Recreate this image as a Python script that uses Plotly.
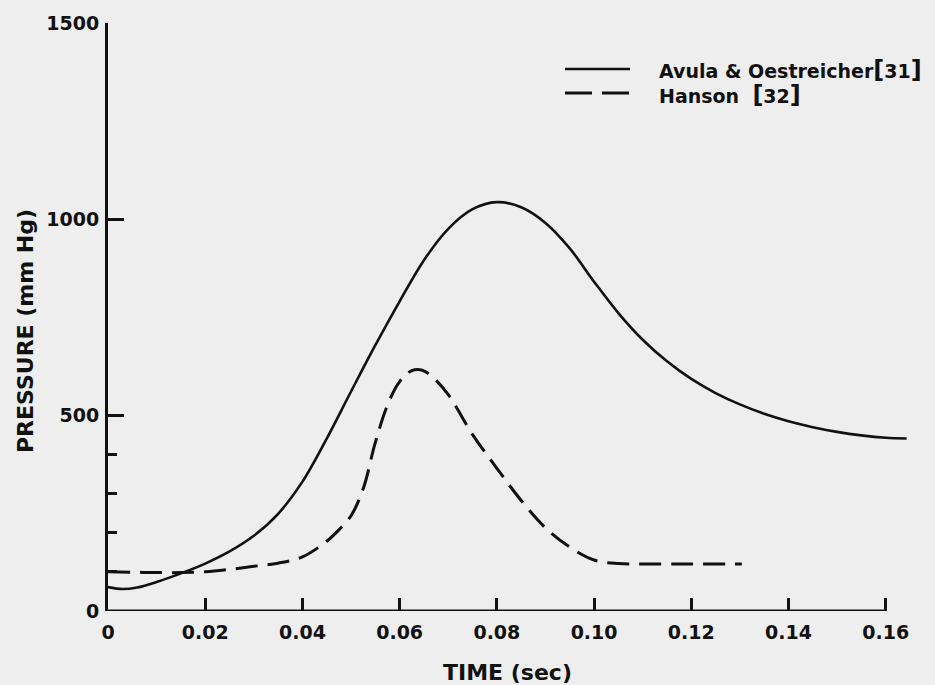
import plotly.graph_objects as go

# Data
t_avula = [0, 0.003, 0.006, 0.01, 0.015, 0.02, 0.025, 0.03, 0.035, 0.04, 0.045,
           0.05, 0.055, 0.06, 0.065, 0.07, 0.075, 0.08, 0.085, 0.09, 0.095,
           0.10, 0.105, 0.11, 0.115, 0.12, 0.125, 0.13, 0.135, 0.14, 0.145,
           0.15, 0.155, 0.16, 0.1643]
p_avula = [61, 56, 60, 74, 96, 121, 152, 192, 248, 330, 440,
           560, 678, 790, 895, 975, 1025, 1043, 1030, 990, 925,
           840, 760, 692, 637, 592, 556, 527, 503, 484, 469,
           457, 448, 442, 440]

t_hanson = [0, 0.005, 0.01, 0.015, 0.02, 0.025, 0.03, 0.035, 0.04, 0.045, 0.0475,
            0.05, 0.0525, 0.055, 0.0575, 0.06, 0.0625, 0.0645, 0.0665, 0.07,
            0.075, 0.08, 0.085, 0.09, 0.095, 0.10, 0.105, 0.11, 0.12, 0.1304]
p_hanson = [100, 99, 98, 98, 100, 106, 114, 122, 138, 178, 207,
            243, 312, 430, 525, 585, 613, 615, 600, 552,
            450, 364, 282, 212, 163, 130, 121, 120, 120, 120]

x_ticks = [0, 0.02, 0.04, 0.06, 0.08, 0.10, 0.12, 0.14, 0.16]
x_ticktext = ["0", "0.02", "0.04", "0.06", "0.08", "0.10", "0.12", "0.14", "0.16"]
y_ticks = [0, 500, 1000, 1500]
y_ticktext = ["0", "500", "1000", "1500"]
y_minor = [100, 200, 300, 400]

series_names = ["Avula & Oestreicher", "Hanson"]
series_refs = ["31", "32"]

INK = "#111111"
BG = "#eeeeee"
FONT = dict(family="DejaVu Sans", size=19, color=INK, weight="bold")
TITLE_FONT = dict(family="DejaVu Sans", size=22, color=INK, weight="bold")

fig = go.Figure()
fig.add_trace(go.Scatter(x=t_avula, y=p_avula, mode="lines", name=series_names[0],
                         line=dict(color=INK, width=2.6, shape="spline", smoothing=1.0),
                         showlegend=False))
fig.add_trace(go.Scatter(x=t_hanson, y=p_hanson, mode="lines", name=series_names[1],
                         line=dict(color=INK, width=3, dash="22px,10px", shape="spline", smoothing=1.0),
                         showlegend=False))

W, H = 935, 685
ml, mr, mt, mb = 108, 24, 23, 74
pw, ph = W - ml - mr, H - mt - mb

def px(xp):
    return (xp - ml) / pw

def py(yp):
    return (H - mb - yp) / ph

shapes = [
    # x axis line ending at 0.16
    dict(type="line", xref="x", yref="y", x0=0, x1=x_ticks[-1], y0=0, y1=0,
         line=dict(color=INK, width=3)),
    # legend samples
    dict(type="line", xref="paper", yref="paper", x0=px(565), x1=px(630), y0=py(69), y1=py(69),
         line=dict(color=INK, width=2.6)),
    dict(type="line", xref="paper", yref="paper", x0=px(565), x1=px(630), y0=py(93), y1=py(93),
         line=dict(color=INK, width=3, dash="27px,10px")),
]

big = "<span style='font-size:24px'>%s</span>"
annotations = [
    dict(xref="paper", yref="paper", x=px(657), y=py(70), xanchor="left", yanchor="middle",
         text=series_names[0].replace("&", "&amp;") + big % "[" + series_refs[0] + big % "]",
         showarrow=False, font=FONT),
    dict(xref="paper", yref="paper", x=px(657), y=py(95), xanchor="left", yanchor="middle",
         text=series_names[1] + "  " + big % "[" + series_refs[1] + big % "]",
         showarrow=False, font=FONT),
    dict(xref="paper", yref="paper", x=px(507), y=py(672), xanchor="center", yanchor="middle",
         text="TIME (sec)", showarrow=False, font=TITLE_FONT),
    dict(xref="paper", yref="paper", x=px(25), y=py(331), xanchor="center", yanchor="middle",
         text="PRESSURE (mm Hg)", textangle=-90, showarrow=False, font=TITLE_FONT),
]

fig.update_layout(
    width=W, height=H,
    margin=dict(l=ml, r=mr, t=mt, b=mb, autoexpand=False),
    paper_bgcolor=BG, plot_bgcolor=BG,
    font=FONT,
    shapes=shapes,
    annotations=annotations,
    xaxis=dict(range=[0, 0.1652], showgrid=False, zeroline=False, showline=False,
               tickmode="array", tickvals=x_ticks, ticktext=x_ticktext,
               ticks="inside", ticklen=13, tickwidth=3, tickcolor=INK,
               ticklabelstandoff=8, tickfont=FONT),
    yaxis=dict(range=[0, 1500], showgrid=False, zeroline=False, showline=True,
               linecolor=INK, linewidth=3,
               tickmode="array", tickvals=y_ticks, ticktext=y_ticktext,
               ticks="inside", ticklen=16, tickwidth=3, tickcolor=INK,
               ticklabelstandoff=2, tickfont=FONT,
               minor=dict(tickmode="array", tickvals=y_minor, ticks="inside",
                          ticklen=9, tickwidth=3, tickcolor=INK)),
)

fig.write_html("out.html",
               config={"displayModeBar": False},
               post_script="document.body.style.margin='0';"
                           "document.body.style.background='#eeeeee';"
                           "document.body.style.overflow='hidden';")
